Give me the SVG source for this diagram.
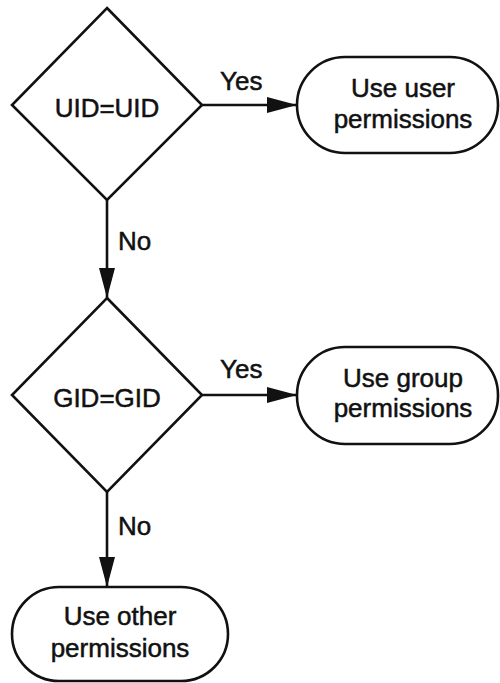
<svg xmlns="http://www.w3.org/2000/svg" width="500" height="683" viewBox="0 0 500 683">
<style>
.shape{fill:#fff;stroke:#111;stroke-width:2.6}
.line{stroke:#111;stroke-width:2.6;fill:none}
text{font-family:"Liberation Sans",Arial,sans-serif;font-size:26px;fill:#111;stroke:#111;stroke-width:0.5;text-anchor:middle}
.lbl{text-anchor:start}
</style>
<defs>
<marker id="arr" viewBox="0 0 30 16" refX="30" refY="8" markerWidth="30" markerHeight="16" markerUnits="userSpaceOnUse" orient="auto">
<path d="M0,0 L30,8 L0,16 Z" fill="#111"/>
</marker>
</defs>
<g id="connectors">
<line class="line" x1="202" y1="105" x2="297" y2="105" marker-end="url(#arr)"/>
<text class="lbl" x="220" y="90">Yes</text>
<line class="line" x1="107" y1="200" x2="107" y2="298" marker-end="url(#arr)"/>
<text class="lbl" x="118" y="250">No</text>
<line class="line" x1="202" y1="395" x2="297" y2="395" marker-end="url(#arr)"/>
<text class="lbl" x="220" y="378">Yes</text>
<line class="line" x1="107" y1="492" x2="107" y2="587" marker-end="url(#arr)"/>
<text class="lbl" x="118" y="535">No</text>
</g>
<g id="uid">
<polygon class="shape" points="107,8 202,105 107,200 12,105"/>
<text x="107" y="117">UID=UID</text>
</g>
<g id="user">
<rect class="shape" x="297" y="57" width="201" height="96" rx="48" ry="48"/>
<text x="403" y="97">Use user</text>
<text x="403" y="128">permissions</text>
</g>
<g id="gid">
<polygon class="shape" points="107,298 202,395 107,492 12,395"/>
<text x="107" y="407">GID=GID</text>
</g>
<g id="group">
<rect class="shape" x="297" y="347" width="201" height="97" rx="48" ry="48"/>
<text x="403" y="387">Use group</text>
<text x="403" y="417">permissions</text>
</g>
<g id="other">
<rect class="shape" x="12" y="587" width="216" height="94" rx="47" ry="47"/>
<text x="120" y="625">Use other</text>
<text x="120" y="657">permissions</text>
</g>
</svg>
